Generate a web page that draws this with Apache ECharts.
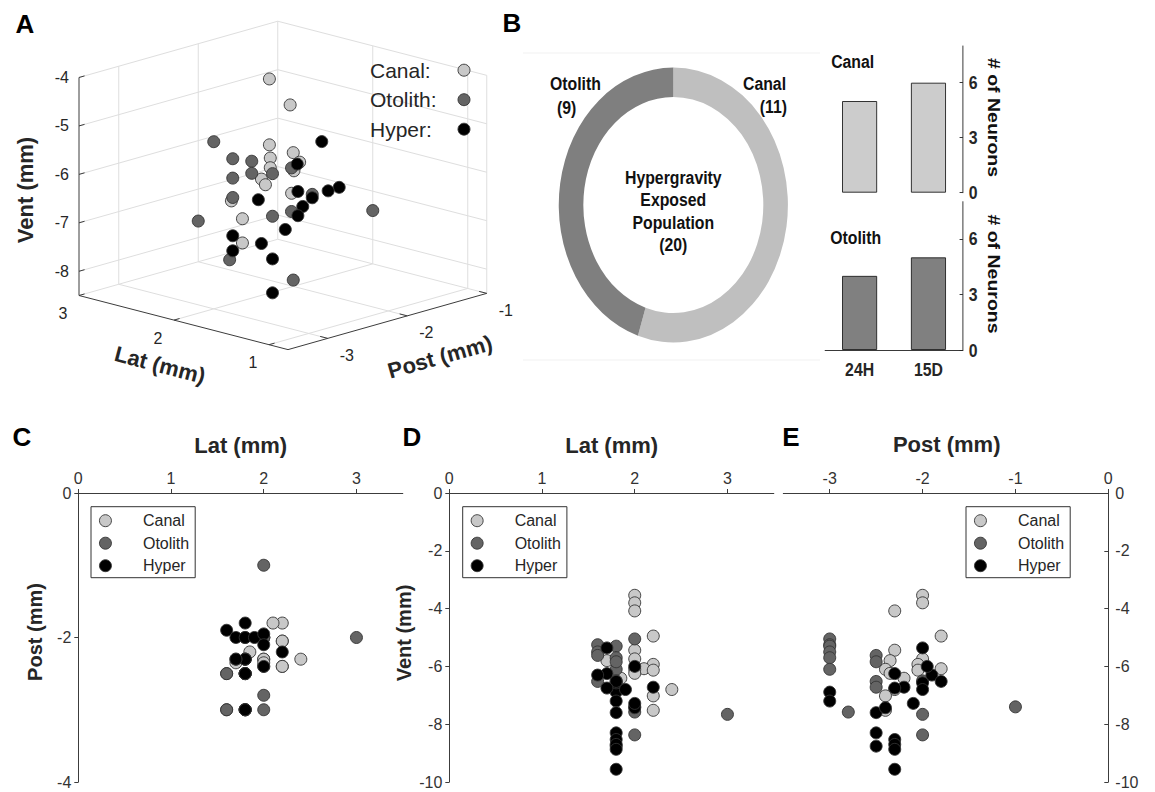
<!DOCTYPE html>
<html>
<head>
<meta charset="utf-8">
<script src="https://cdn.jsdelivr.net/npm/echarts@6/dist/echarts.min.js"></script>
<style>
html,body{margin:0;padding:0;background:#fff;width:1155px;height:792px;overflow:hidden;}
#main{position:absolute;left:0;top:0;width:1155px;height:792px;}
#panelB{position:absolute;left:500px;top:0;width:786px;height:400px;transform:scaleX(0.8333);transform-origin:0 0;}
</style>
</head>
<body>
<div id="main"></div>
<div id="panelB"></div>
<script>
// ---------------- DATA ----------------
// neuron locations: [Lat (mm), Post (mm), Vent (mm)]
const canalPts = [
  [2.0,-2.0,-3.54],[2.0,-2.0,-3.80],[2.0,-2.3,-4.08],[2.2,-1.8,-4.95],
  [2.0,-2.3,-5.44],[2.0,-2.0,-5.74],[1.7,-2.35,-5.80],[2.2,-2.05,-5.93],
  [2.1,-1.8,-6.08],[2.0,-2.4,-6.10],[2.2,-2.05,-6.13],[2.0,-2.35,-6.24],
  [1.85,-2.2,-6.41],[2.4,-2.3,-6.80],[2.2,-2.4,-7.02],[2.2,-2.4,-7.52]
];
const otolithPts = [
  [2.0,-3.0,-5.05],[1.6,-3.0,-5.25],[1.8,-3.0,-5.30],[1.6,-3.0,-5.50],
  [1.8,-3.0,-5.70],[1.8,-3.0,-6.10],[1.6,-2.5,-5.62],[1.8,-2.5,-5.84],
  [1.6,-2.5,-6.52],[1.8,-2.5,-6.72],[1.8,-2.0,-6.50],[2.0,-2.8,-7.58],
  [3.0,-2.0,-7.66],[2.0,-2.0,-8.37],[2.0,-1.0,-7.40]
];
const hyperPts = [
  [1.8,-3.0,-6.89],[1.8,-3.0,-7.20],[1.8,-2.5,-7.60],[2.0,-2.4,-7.43],
  [1.8,-2.5,-8.30],[1.8,-2.5,-8.76],[1.8,-2.3,-8.53],[1.8,-2.3,-8.70],
  [1.8,-2.3,-8.87],[1.8,-2.3,-9.56],[1.7,-2.3,-6.25],[1.6,-1.9,-6.30],
  [2.2,-2.2,-6.72],[1.7,-2.0,-5.36],[1.8,-2.0,-6.57],[1.9,-2.0,-6.80],
  [2.0,-1.95,-6.00],[1.8,-1.8,-6.52],[2.0,-2.1,-7.28],[1.7,-2.3,-6.75]
];
const groupNames = ['Canal', 'Otolith', 'Hyper'];

// 3D view (panel A) axis limits and ticks
const lim3dLat = [0.8, 3];
const lim3dPost = [-3.5, -1];
const lim3dVent = [-8.5, -4];
const ticks3dLat = [3, 2, 1];
const ticks3dPost = [-3, -2, -1];
const ticks3dVent = [-4, -5, -6, -7, -8];

// 2D projections (panels C, D, E) ticks
const latTicks = [0, 1, 2, 3];
const postTicksC = [0, -2, -4];
const postTicksE = [-3, -2, -1, 0];
const ventTicks = [0, -2, -4, -6, -8, -10];

// panel B
const popNames = ['Canal', 'Otolith'];
const popCounts = [11, 9];
const timeCats = ['24H', '15D'];
const canalByTime = [5, 6];
const otolithByTime = [4, 5];
const barTicks = [0, 3, 6];

// ---------------- STYLE ----------------
const FONT = "'Liberation Sans', Arial, Helvetica, sans-serif";
const groupColors = ['#c8c8c8', '#646464', '#000000'];
const AX = '#3c3c3c';
const GRIDC = '#dedede';
const TXT = '#262626';

// orthographic projection for panel A
const ORIGIN = [79, 295.5];
const U_LAT = [-95, -24.6];
const U_POST = [79.5, -22.5];
const U_VENT = [0, -48.45];
function P(lat, post, vent) {
  const a = lat - lim3dLat[1], b = post - lim3dPost[0], c = vent - lim3dVent[0];
  return [ORIGIN[0] + a * U_LAT[0] + b * U_POST[0] + c * U_VENT[0],
          ORIGIN[1] + a * U_LAT[1] + b * U_POST[1] + c * U_VENT[1]];
}

const g = [];
function line(p1, p2, color, w) {
  g.push({type: 'line', silent: true, z: 0,
    shape: {x1: p1[0], y1: p1[1], x2: p2[0], y2: p2[1]},
    style: {stroke: color, lineWidth: w || 1}});
}
function text(str, x, y, o) {
  o = o || {};
  g.push({type: 'text', silent: true, x: x, y: y, rotation: o.rotation || 0, z: 5,
    style: {text: String(str), fill: o.color || TXT, fontSize: o.size || 16,
      fontWeight: o.bold ? 'bold' : 'normal', fontFamily: FONT,
      align: o.align || 'center', verticalAlign: o.va || 'middle'}});
}

// ---- panel A box & grid ----
const [latMin, latMax] = lim3dLat, [pMin, pMax] = lim3dPost, [vMin, vMax] = lim3dVent;
ticks3dVent.forEach(v => {
  line(P(latMax, pMin, v), P(latMax, pMax, v), GRIDC);
  line(P(latMax, pMax, v), P(latMin, pMax, v), GRIDC);
});
ticks3dPost.filter(p => p > pMin && p < pMax).forEach(p => {
  line(P(latMax, p, vMin), P(latMax, p, vMax), GRIDC);
  line(P(latMax, p, vMin), P(latMin, p, vMin), GRIDC);
});
ticks3dLat.filter(l => l > latMin && l < latMax).forEach(l => {
  line(P(l, pMax, vMin), P(l, pMax, vMax), GRIDC);
  line(P(l, pMin, vMin), P(l, pMax, vMin), GRIDC);
});
line(P(latMax, pMax, vMin), P(latMax, pMax, vMax), GRIDC);
line(P(latMin, pMax, vMin), P(latMin, pMax, vMax), GRIDC);
line(P(latMax, pMin, vMin), P(latMax, pMax, vMin), GRIDC);
line(P(latMax, pMax, vMin), P(latMin, pMax, vMin), GRIDC);
// axes
line(P(latMax, pMin, vMin), P(latMax, pMin, vMax), AX);
line(P(latMax, pMin, vMin), P(latMin, pMin, vMin), AX);
line(P(latMin, pMin, vMin), P(latMin, pMax, vMin), AX);
ticks3dVent.forEach(v => {
  line(P(latMax, pMin, v), P(latMax, pMin + 0.07, v), AX);
  const q = P(latMax, pMin, v); text(v, q[0] - 10, q[1], {align: 'right'});
});
ticks3dLat.forEach(l => {
  line(P(l, pMin, vMin), P(l, pMin + 0.07, vMin), AX);
  const q = P(l, pMin, vMin); text(l, q[0] - 16, q[1] + 18);
});
ticks3dPost.forEach(p => {
  line(P(latMin, p, vMin), P(latMin + 0.08, p, vMin), AX);
  const q = P(latMin, p, vMin); text(p, q[0] + 19, q[1] + 17);
});
text('Vent (mm)', 25, 190, {size: 22, bold: true, rotation: Math.PI / 2});
text('Lat (mm)', 160, 365, {size: 22, bold: true, rotation: -Math.atan2(-U_LAT[1], -U_LAT[0])});
text('Post (mm)', 440, 357, {size: 22, bold: true, rotation: Math.atan2(-U_POST[1], U_POST[0])});

// panel letters
[['A', 25, 24], ['B', 512, 23], ['C', 22, 437], ['D', 412, 437], ['E', 791, 437]]
  .forEach(a => text(a[0], a[1], a[2], {size: 26, bold: true, color: '#000'}));
// 2D axis titles
text('Lat (mm)', 240.7, 445, {size: 22, bold: true});
text('Lat (mm)', 611.7, 445, {size: 22, bold: true});
text('Post (mm)', 946.7, 444, {size: 22, bold: true});
text('Post (mm)', 35, 632, {size: 20, bold: true, rotation: Math.PI / 2});
text('Vent (mm)', 404, 633, {size: 20, bold: true, rotation: Math.PI / 2});

// ---------------- MAIN CHART ----------------
const groups = [canalPts, otolithPts, hyperPts];
function sym(i) {
  return {symbol: 'circle', symbolSize: 12, silent: true,
    itemStyle: {color: groupColors[i], borderColor: '#333', borderWidth: 0.9, opacity: 1}};
}
const series = [];
// panel A (projected)
groups.forEach((pts, i) => series.push(Object.assign({
  type: 'scatter', name: groupNames[i], xAxisIndex: 0, yAxisIndex: 0,
  data: pts.filter(p => p[2] >= vMin && p[2] <= vMax).map(p => P(p[0], p[1], p[2]))
}, sym(i))));
// panels C, D, E
const proj = [[0, 1], [0, 2], [1, 2]];
proj.forEach((pr, k) => groups.forEach((pts, i) => series.push(Object.assign({
  type: 'scatter', name: groupNames[i], xAxisIndex: k + 1, yAxisIndex: k + 1,
  data: pts.map(p => [p[pr[0]], p[pr[1]]])
}, sym(i)))));

function vAxis(gi, pos, min, max, ticks, inside) {
  return {gridIndex: gi, type: 'value', position: pos, min: min, max: max,
    axisLine: {show: true, onZero: false, lineStyle: {color: AX, width: 1}},
    axisTick: {show: true, inside: !!inside, length: 4, customValues: ticks, lineStyle: {color: AX}},
    axisLabel: {customValues: ticks, margin: 7, fontSize: 16, color: '#333', fontFamily: FONT},
    splitLine: {show: false}};
}
const gridBase = {containLabel: false, outerBoundsMode: 'none'};
const legendBase = {
  data: groupNames, orient: 'vertical', icon: 'circle', itemWidth: 65, itemHeight: 12,
  itemGap: 6.5, padding: [6, 6, 4, 8], borderColor: '#333', borderWidth: 1,
  backgroundColor: '#fff', selectedMode: false,
  itemStyle: {borderColor: '#333', borderWidth: 0.9},
  textStyle: {fontSize: 16, color: TXT, fontFamily: FONT, lineHeight: 16}
};
const option = {
  animation: false,
  textStyle: {fontFamily: FONT},
  grid: [
    Object.assign({left: 0, top: 0, width: 1155, height: 792}, gridBase),
    Object.assign({left: 78.3, top: 493, width: 324.5, height: 289}, gridBase),
    Object.assign({left: 449.3, top: 493, width: 324.5, height: 289}, gridBase),
    Object.assign({left: 783.3, top: 493, width: 325, height: 289}, gridBase)
  ],
  xAxis: [
    {gridIndex: 0, type: 'value', min: 0, max: 1155, show: false},
    vAxis(1, 'top', 0, 3.5, latTicks),
    vAxis(2, 'top', 0, 3.5, latTicks),
    vAxis(3, 'top', -3.5, 0, postTicksE)
  ],
  yAxis: [
    {gridIndex: 0, type: 'value', min: 0, max: 792, inverse: true, show: false},
    vAxis(1, 'left', -4, 0, postTicksC),
    vAxis(2, 'left', -10, 0, ventTicks),
    vAxis(3, 'right', -10, 0, ventTicks, true)
  ],
  legend: [
    {data: groupNames, orient: 'vertical', align: 'right', icon: 'circle', left: 370, top: 59.7,
      itemWidth: 12, itemHeight: 12, itemGap: 8.5, padding: 0, selectedMode: false,
      itemStyle: {borderColor: '#333', borderWidth: 0.9},
      formatter: n => '{a|' + n + ':}',
      textStyle: {fontSize: 21, color: TXT, fontFamily: FONT,
        rich: {a: {width: 83, align: 'left', fontSize: 21, lineHeight: 24, color: TXT, fontFamily: FONT}}}},
    Object.assign({left: 91, top: 506.7}, legendBase),
    Object.assign({left: 462.7, top: 506.7}, legendBase),
    Object.assign({left: 966, top: 506.7}, legendBase)
  ],
  series: series,
  graphic: g
};
const chart = echarts.init(document.getElementById('main'), null, {renderer: 'svg'});
chart.setOption(option);

// ---------------- PANEL B ----------------
const popColors = ['#bfbfbf', '#7f7f7f'];
const total = popCounts.reduce((a, b) => a + b, 0);
const gb = [];
function tB(str, x, y, o) {
  o = o || {};
  gb.push({type: 'text', silent: true, x: x, y: y, rotation: o.rotation || 0,
    style: {text: String(str), fill: o.color || '#111', fontSize: o.size || 19,
      fontWeight: 'bold', fontFamily: FONT, align: o.align || 'center',
      verticalAlign: 'middle', lineHeight: o.lh || 22}});
}
gb.push({type: 'line', silent: true, shape: {x1: 27.6, y1: 53, x2: 384, y2: 53}, style: {stroke: '#f0f0f0', lineWidth: 1}});
gb.push({type: 'line', silent: true, shape: {x1: 27.6, y1: 360, x2: 384, y2: 360}, style: {stroke: '#f0f0f0', lineWidth: 1}});
tB(popNames[1], 60, 83, {align: 'left'});
tB('(' + popCounts[1] + ')', 68.4, 107, {align: 'left'});
tB(popNames[0], 343.3, 83, {align: 'right'});
tB('(' + popCounts[0] + ')', 344.5, 106, {align: 'right'});
tB('Hypergravity\nExposed\nPopulation\n(' + total + ')', 208, 211, {lh: 22.5});
tB(popNames[0], 397.4, 61.7, {align: 'left'});
tB(popNames[1], 396.2, 237.3, {align: 'left'});
tB('# of Neurons', 592, 117.5, {rotation: -Math.PI / 2, size: 19.5});
tB('# of Neurons', 592, 274, {rotation: -Math.PI / 2, size: 19.5});

function barY(gi) {
  return {gridIndex: gi, type: 'value', position: 'right', min: 0, max: 8,
    axisLine: {show: true, onZero: false, lineStyle: {color: TXT}},
    axisTick: {show: true, inside: true, length: 4, customValues: barTicks, lineStyle: {color: TXT}},
    axisLabel: {customValues: barTicks, fontSize: 19, fontWeight: 'bold', color: TXT, margin: 7, fontFamily: FONT},
    splitLine: {show: false}};
}
const optionB = {
  animation: false,
  textStyle: {fontFamily: FONT},
  grid: [
    Object.assign({left: 390.2, top: 46, width: 165.3, height: 146.7}, gridBase),
    Object.assign({left: 390.2, top: 201.7, width: 165.3, height: 148.3}, gridBase)
  ],
  xAxis: [
    {gridIndex: 0, type: 'category', data: timeCats, axisLine: {show: false}, axisTick: {show: false}, axisLabel: {show: false}},
    {gridIndex: 1, type: 'category', data: timeCats, axisLine: {show: true, onZero: false, lineStyle: {color: TXT}},
      axisTick: {show: false}, axisLabel: {fontSize: 19, fontWeight: 'bold', color: TXT, margin: 10, fontFamily: FONT}}
  ],
  yAxis: [barY(0), barY(1)],
  series: [
    {type: 'pie', center: [208, 205], radius: [108, 137.5], startAngle: 90, clockwise: true,
      silent: true, label: {show: false}, labelLine: {show: false}, emphasis: {disabled: true},
      itemStyle: {borderWidth: 0},
      data: popNames.map((n, i) => ({name: n, value: popCounts[i], itemStyle: {color: popColors[i]}}))},
    {type: 'bar', name: 'Canal', xAxisIndex: 0, yAxisIndex: 0, data: canalByTime, barWidth: 42, silent: true,
      itemStyle: {color: '#cccccc', borderColor: '#222', borderWidth: 1}},
    {type: 'bar', name: 'Otolith', xAxisIndex: 1, yAxisIndex: 1, data: otolithByTime, barWidth: 42, silent: true,
      itemStyle: {color: '#808080', borderColor: '#222', borderWidth: 1}}
  ],
  graphic: gb
};
const chartB = echarts.init(document.getElementById('panelB'), null, {renderer: 'svg'});
chartB.setOption(optionB);
</script>
</body>
</html>
